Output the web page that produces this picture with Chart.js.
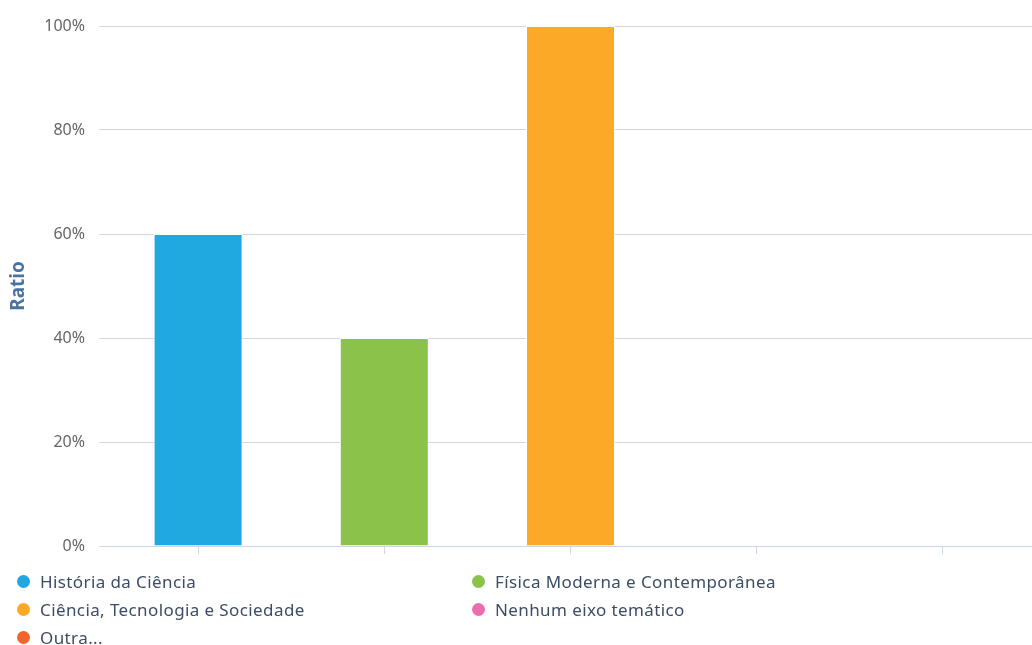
<!DOCTYPE html>
<html>
<head>
<meta charset="utf-8">
<script src="https://cdn.jsdelivr.net/npm/chart.js@4.4.0/dist/chart.umd.min.js"></script>
<style>
  html, body { margin: 0; padding: 0; background: #fff; overflow: hidden; }
  #wrap { position: relative; width: 1040px; height: 645px; }
  #legend {
    position: absolute; left: 17px; top: 567px;
    display: grid; grid-template-columns: 455px 455px; grid-auto-rows: 28px;
    font-family: "Noto Sans", sans-serif; font-size: 17px; color: #3c4d66;
    letter-spacing: 0.4px;
  }
  .item { display: flex; align-items: center; white-space: nowrap; }
  .dot { width: 13px; height: 13px; border-radius: 50%; margin-right: 10px; }
</style>
</head>
<body>
<div id="wrap">
  <canvas id="chart" width="1040" height="645"></canvas>
  <div id="legend"></div>
</div>
<script>
// dados do gráfico
const categorias = [
  'História da Ciência',
  'Física Moderna e Contemporânea',
  'Ciência, Tecnologia e Sociedade',
  'Nenhum eixo temático',
  'Outra...'
];
const valores = [60, 40, 100, 0, 0];
const cores = ['#20a8e0', '#8bc34a', '#fba926', '#ea6daf', '#f1652a'];
const ticksY = [0, 20, 40, 60, 80, 100];

// legenda em duas colunas
const legend = document.getElementById('legend');
categorias.forEach((nome, i) => {
  const item = document.createElement('div');
  item.className = 'item';
  item.innerHTML = '<span class="dot" style="background:' + cores[i] + '"></span><span>' + nome + '</span>';
  legend.appendChild(item);
});

const ctx = document.getElementById('chart').getContext('2d');
new Chart(ctx, {
  type: 'bar',
  data: {
    labels: categorias,
    datasets: [{
      data: valores,
      backgroundColor: cores,
      borderColor: '#ffffff',
      borderWidth: 1,
      categoryPercentage: 1,
      barPercentage: 0.478
    }]
  },
  options: {
    responsive: false,
    animation: false,
    layout: { padding: { top: 26, right: 4, bottom: 91, left: 0 } },
    plugins: {
      legend: { display: false },
      tooltip: { enabled: false }
    },
    scales: {
      x: {
        grid: {
          offset: false,
          drawOnChartArea: false,
          drawTicks: true,
          tickLength: 8,
          color: '#ccd6eb'
        },
        border: { display: true, color: '#ccd6eb', width: 1 },
        ticks: { callback: () => '', padding: 0 },
        afterFit: s => { s.height = 8; }
      },
      y: {
        min: 0,
        max: 100,
        afterBuildTicks: s => { s.ticks = ticksY.map(v => ({ value: v })); },
        grid: { color: '#d6d6d6', tickLength: 6, lineWidth: 1 },
        border: { display: false },
        ticks: {
          padding: 14,
          color: '#666666',
          font: { family: 'Noto Sans', size: 16 },
          callback: v => v + '%'
        },
        title: {
          display: true,
          text: 'Ratio',
          color: '#4a73a0',
          font: { family: 'Noto Sans', size: 19, weight: 'bold' },
          padding: { top: 7, bottom: 10 }
        },
        afterFit: s => { s.width = 105; }
      }
    }
  }
});
</script>
</body>
</html>
